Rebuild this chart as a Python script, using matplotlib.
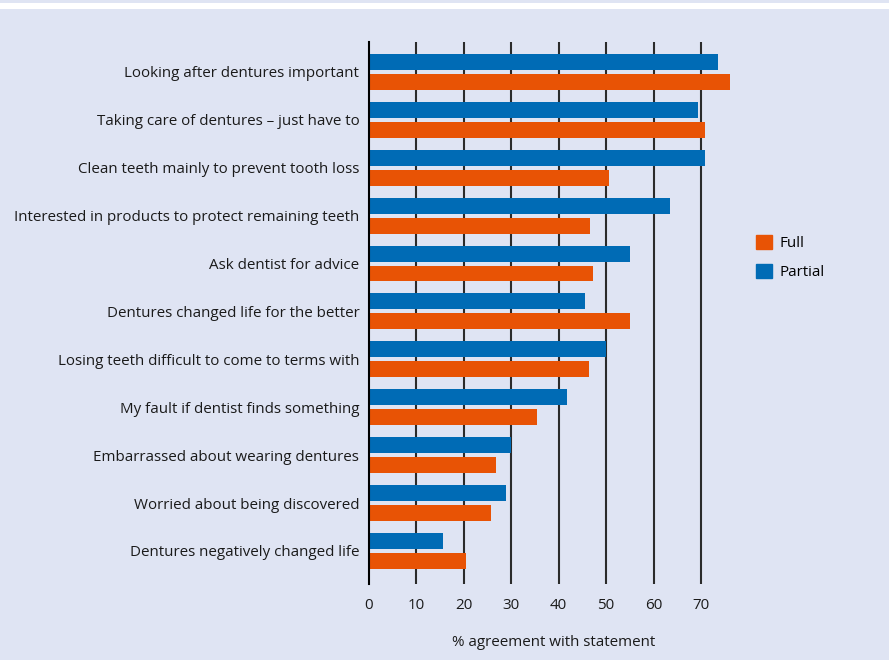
import numpy as np
import matplotlib.pyplot as plt
from matplotlib.patches import Patch, Rectangle

# statements, top to bottom
statements = [
    "Looking after dentures important",
    "Taking care of dentures \u2013 just have to",
    "Clean teeth mainly to prevent tooth loss",
    "Interested in products to protect remaining teeth",
    "Ask dentist for advice",
    "Dentures changed life for the better",
    "Losing teeth difficult to come to terms with",
    "My fault if dentist finds something",
    "Embarrassed about wearing dentures",
    "Worried about being discovered",
    "Dentures negatively changed life",
]
partial = [73.6, 69.4, 70.9, 63.5, 55.1, 45.6, 49.9, 41.8, 30.0, 28.9, 15.6]
full = [76.2, 70.9, 50.6, 46.6, 47.3, 55.1, 46.4, 35.4, 26.8, 25.7, 20.5]
xticks = [0, 10, 20, 30, 40, 50, 60, 70]

BG = "#dfe4f3"
BLUE = "#006bb5"
ORANGE = "#e85305"
TXT = "#1a1a1a"
FS = 10.9

plt.rcParams["font.family"] = ["Open Sans", "DejaVu Sans"]

fig = plt.figure(figsize=(8.89, 6.6), dpi=100, facecolor=BG)
# white strip at the top
fig.patches.append(Rectangle((0, 1 - 9 / 660), 1, 6 / 660, transform=fig.transFigure,
                             facecolor="white", edgecolor="none"))

ax = fig.add_axes([369 / 889, 0.1152, 370 / 889, 0.8212])
ax.set_facecolor(BG)

y = np.arange(len(statements))
h = 1 / 3
off = 0.2083
ax.barh(y - off, partial, height=h, color=BLUE, zorder=3)
ax.barh(y + off, full, height=h, color=ORANGE, zorder=3)

ax.set_xlim(0, 78)
ax.set_ylim(10.69, -0.625)
ax.set_xticks(xticks)
ax.set_yticks(y)
ax.set_yticklabels(statements)
ax.tick_params(axis="both", length=0, labelsize=FS, colors=TXT)
ax.tick_params(axis="y", pad=7)
ax.tick_params(axis="x", pad=10)

for v in xticks[1:]:
    ax.axvline(v, color="#2b2b2b", lw=1.5, zorder=1)
for s in ["top", "right", "bottom"]:
    ax.spines[s].set_visible(False)
ax.spines["left"].set_color("black")
ax.spines["left"].set_linewidth(1.5)
ax.spines["left"].set_zorder(4)

ax.set_xlabel("% agreement with statement", fontsize=FS, color=TXT, labelpad=16)

handles = [Patch(color=ORANGE, label="Full"), Patch(color=BLUE, label="Partial")]
fig.legend(handles=handles, loc="upper left", bbox_to_anchor=(742 / 889, 1 - 221 / 660),
           frameon=False, fontsize=FS, handlelength=1.05, handleheight=1.05,
           handletextpad=0.5, labelspacing=0.85)

fig.savefig("out.png", dpi=100, facecolor=BG)
